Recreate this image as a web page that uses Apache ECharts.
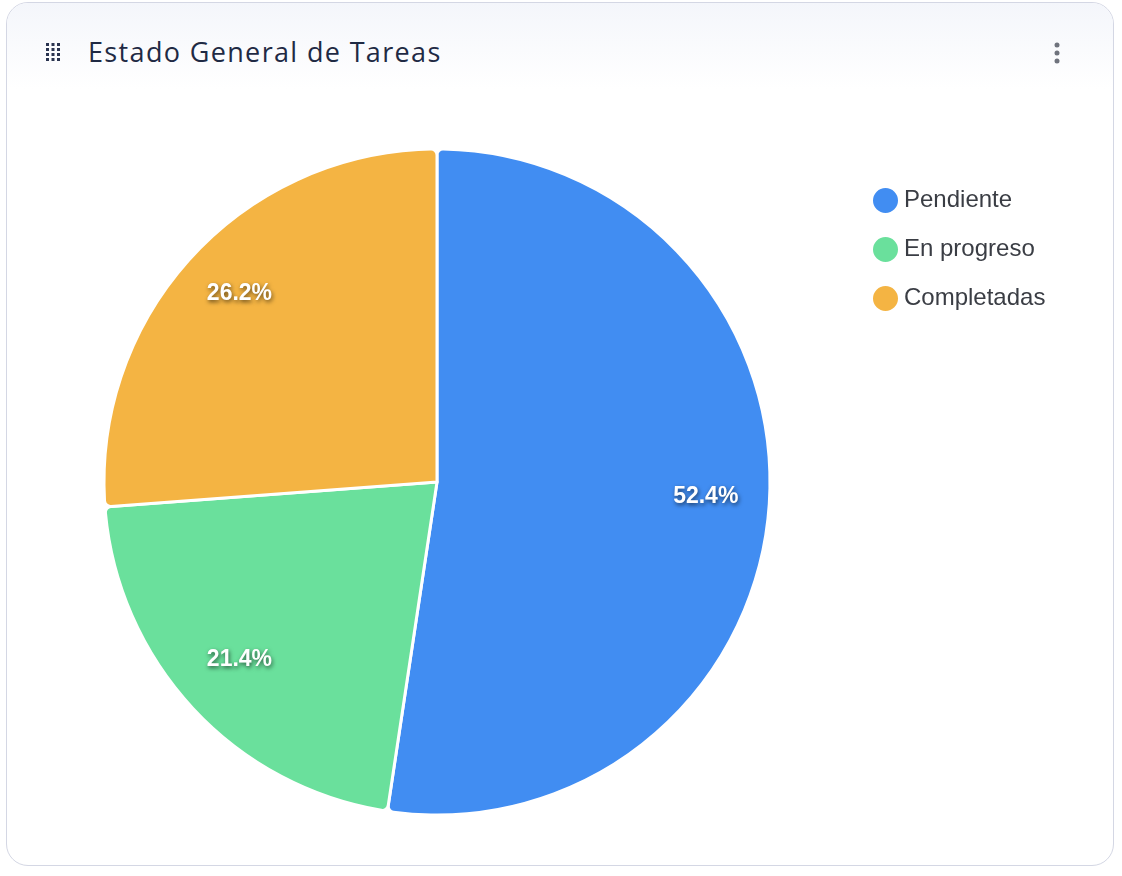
<!DOCTYPE html>
<html>
<head>
<meta charset="utf-8">
<script src="https://cdn.jsdelivr.net/npm/echarts@6/dist/echarts.min.js"></script>
<style>
  html, body { margin:0; padding:0; width:1122px; height:876px; background:#fff; overflow:hidden; }
  .card { position:absolute; left:6px; top:2px; width:1106px; height:862px; border:1.5px solid #d4d7e4; border-radius:22px; background:#fff; overflow:hidden; }
  .header { position:absolute; left:0; top:0; right:0; height:86px; background:linear-gradient(#f4f6fb, #ffffff); }
  .title { position:absolute; left:81px; top:30px; font-family:"Open Sans", "Noto Sans", sans-serif; font-size:27px; color:#1f2a44; letter-spacing:1.35px; }
  .grip { position:absolute; left:39px; top:40px; width:16px; height:20px; }
  .kebab { position:absolute; left:1046px; top:38px; width:8px; height:24px; }
  #chart { position:absolute; left:0; top:0; width:1122px; height:876px; }
</style>
</head>
<body>
<div class="card">
  <div class="header"></div>
  <svg class="grip" viewBox="0 0 16 20">
    <g fill="#2a3450">
      <rect x="0" y="0" width="3" height="3"/><rect x="5.5" y="0" width="3" height="3"/><rect x="11" y="0" width="3" height="3"/>
      <rect x="0" y="5" width="3" height="3"/><rect x="5.5" y="5" width="3" height="3"/><rect x="11" y="5" width="3" height="3"/>
      <rect x="0" y="10" width="3" height="3"/><rect x="5.5" y="10" width="3" height="3"/><rect x="11" y="10" width="3" height="3"/>
      <rect x="0" y="15" width="3" height="3"/><rect x="5.5" y="15" width="3" height="3"/><rect x="11" y="15" width="3" height="3"/>
    </g>
  </svg>
  <div class="title">Estado General de Tareas</div>
  <svg class="kebab" viewBox="0 0 8 24">
    <g fill="#6f737d"><circle cx="4" cy="4" r="2.5"/><circle cx="4" cy="12" r="2.5"/><circle cx="4" cy="20" r="2.5"/></g>
  </svg>
</div>
<div id="chart"></div>
<script>
const categories = ['Pendiente', 'En progreso', 'Completadas'];
const values = [22, 9, 11];
const colors = ['#418df2', '#6ae09c', '#f4b443'];

const chart = echarts.init(document.getElementById('chart'), null, { renderer: 'canvas' });
const total = values.reduce((a, b) => a + b, 0);
const dataVisible = categories.map((c, i) => ({ name: c, value: values[i], itemStyle: { color: colors[i] } }));
const dataLabels = categories.map((c, i) => ({ name: c, value: values[i], itemStyle: { color: 'rgba(0,0,0,0)' } }));

chart.setOption({
  animation: false,
  legend: {
    orient: 'vertical',
    left: 866,
    top: 181,
    icon: 'circle',
    itemWidth: 27,
    itemHeight: 27,
    itemGap: 20,
    data: categories,
    textStyle: { fontFamily: 'Liberation Sans, Arial, sans-serif', fontSize: 24, color: '#3a3d44' }
  },
  series: [
    {
      type: 'pie',
      center: [437, 482],
      radius: [0, 333],
      startAngle: 90,
      clockwise: true,
      data: dataVisible,
      label: { show: false },
      labelLine: { show: false },
      itemStyle: { borderColor: '#ffffff', borderWidth: 3, borderRadius: 6 },
      emphasis: { disabled: true }
    },
    {
      type: 'pie',
      center: [437, 482],
      radius: [200, 333],
      startAngle: 90,
      clockwise: true,
      silent: true,
      legendHoverLink: false,
      data: dataLabels,
      label: {
        show: true,
        position: 'inside',
        formatter: p => '{v|' + (p.value / total * 100).toFixed(1) + '%}\n{s|}',
        rich: {
          v: {
            fontFamily: 'Liberation Sans, Arial, sans-serif',
            fontSize: 23,
            fontWeight: 'bold',
            color: '#ffffff',
            lineHeight: 24,
            textShadowColor: 'rgba(0,0,0,0.6)',
            textShadowBlur: 4,
            textShadowOffsetX: 1,
            textShadowOffsetY: 2
          },
          s: { fontSize: 1, lineHeight: 11 }
        }
      },
      labelLine: { show: false },
      emphasis: { disabled: true }
    }
  ]
});
</script>
</body>
</html>
